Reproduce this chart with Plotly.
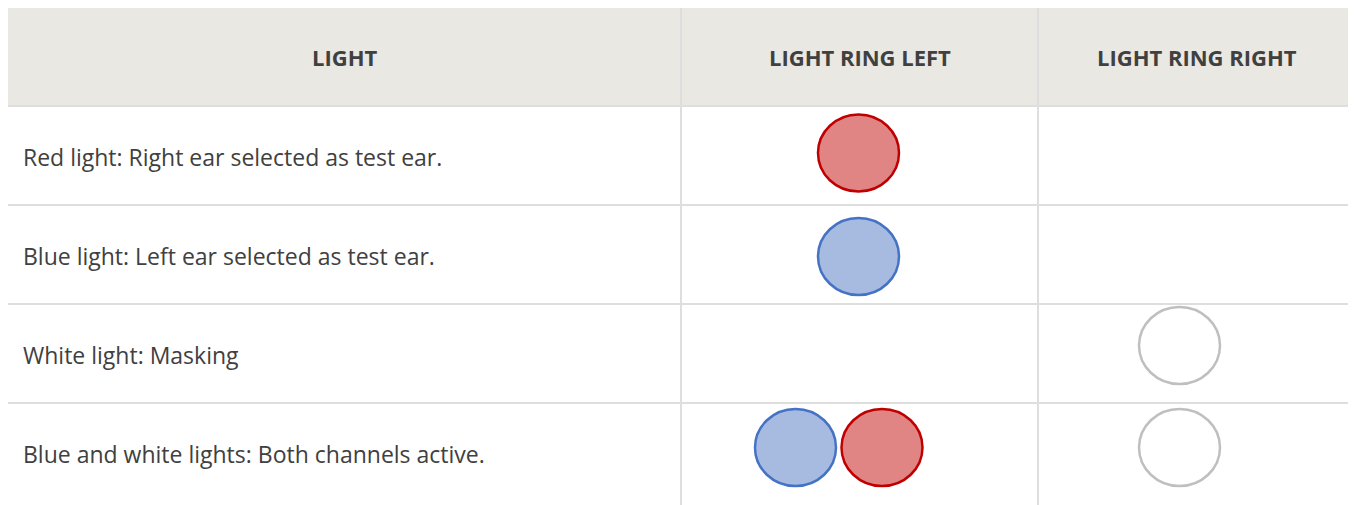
import plotly.graph_objects as go

# ---- data ----
headers = ["LIGHT", "LIGHT RING LEFT", "LIGHT RING RIGHT"]
row_labels = [
    "Red light: Right ear selected as test ear.",
    "Blue light: Left ear selected as test ear.",
    "White light: Masking",
    "Blue and white lights: Both channels active.",
]
ring_left = [["red"], ["blue"], [], ["blue", "red"]]
ring_right = [[], [], ["white"], ["white"]]

# ---- layout / style ----
W, H = 1356, 505
PAGE_MARGIN = 8  # default body margin of the html page
col_edges = [7, 681, 1038, 1356]
header_top, header_bottom = 7, 106
row_edges = [106, 205, 304, 403, 502]
circle_dy = [-2.5, 2, -8, -5]
circle_rx, circle_ry = 40.5, 38.5
pair_offsets = [-64, 22.5]
right_offset = -17.5
single_offset = -1

styles = {
    "red": dict(fill="#E08583", line="#C00000"),
    "blue": dict(fill="#A7BBE1", line="#4472C4"),
    "white": dict(fill="#FFFFFF", line="#BFBFBF"),
}
text_color = "#404040"
grid_color = "#DEDEDE"
header_bg = "#E9E8E3"
font_family = "Open Sans, Noto Sans, sans-serif"

fig = go.Figure()
shapes = []
annotations = []

# header background
shapes.append(dict(type="rect", xref="x", yref="y", x0=col_edges[0], x1=col_edges[-1] + 2,
                   y0=header_top, y1=header_bottom, fillcolor=header_bg, line_width=0, layer="below"))
# horizontal lines
for y in row_edges[:-1]:
    shapes.append(dict(type="line", xref="x", yref="y", x0=col_edges[0], x1=col_edges[-1] + 2,
                       y0=y, y1=y, line=dict(color=grid_color, width=2), layer="below"))
# vertical lines
for x in col_edges[1:-1]:
    shapes.append(dict(type="line", xref="x", yref="y", x0=x, x1=x,
                       y0=header_top, y1=H + 2, line=dict(color=grid_color, width=2), layer="below"))

# header text
for i, h in enumerate(headers):
    cx = (col_edges[i] + col_edges[i + 1]) / 2
    annotations.append(dict(x=cx, y=(header_top + header_bottom) / 2, xref="x", yref="y",
                            text="<b>" + h + "</b>", showarrow=False,
                            font=dict(family=font_family, size=22, color=text_color),
                            xanchor="center", yanchor="middle"))

# row text
for r, lab in enumerate(row_labels):
    cy = (row_edges[r] + row_edges[r + 1]) / 2
    annotations.append(dict(x=21, y=cy + 1, xref="x", yref="y", text=lab, showarrow=False,
                            font=dict(family=font_family, size=23, color=text_color),
                            xanchor="left", yanchor="middle"))


def add_circle(cx, cy, kind):
    st = styles[kind]
    shapes.append(dict(type="circle", xref="x", yref="y",
                       x0=cx - circle_rx, x1=cx + circle_rx,
                       y0=cy - circle_ry, y1=cy + circle_ry,
                       fillcolor=st["fill"], line=dict(color=st["line"], width=2.5)))


for r in range(len(row_labels)):
    cy = (row_edges[r] + row_edges[r + 1]) / 2 + circle_dy[r]
    lc = (col_edges[1] + col_edges[2]) / 2
    lights = ring_left[r]
    if len(lights) == 1:
        add_circle(lc + single_offset, cy, lights[0])
    else:
        for k, kind in enumerate(lights):
            add_circle(lc + pair_offsets[k], cy, kind)
    rc = (col_edges[2] + col_edges[3]) / 2
    for kind in ring_right[r]:
        add_circle(rc + right_offset, cy, kind)

fig.add_trace(go.Scatter(x=[PAGE_MARGIN, W], y=[PAGE_MARGIN, H], mode="markers",
                         marker=dict(opacity=0), hoverinfo="skip", showlegend=False))

fig.update_layout(
    width=W - PAGE_MARGIN, height=H - PAGE_MARGIN,
    margin=dict(l=0, r=0, t=0, b=0),
    paper_bgcolor="white", plot_bgcolor="white",
    xaxis=dict(range=[PAGE_MARGIN, W], visible=False, fixedrange=True),
    yaxis=dict(range=[H, PAGE_MARGIN], visible=False, fixedrange=True),
    shapes=shapes, annotations=annotations, showlegend=False,
)

fig.write_html("out.html", config={"displayModeBar": False})
